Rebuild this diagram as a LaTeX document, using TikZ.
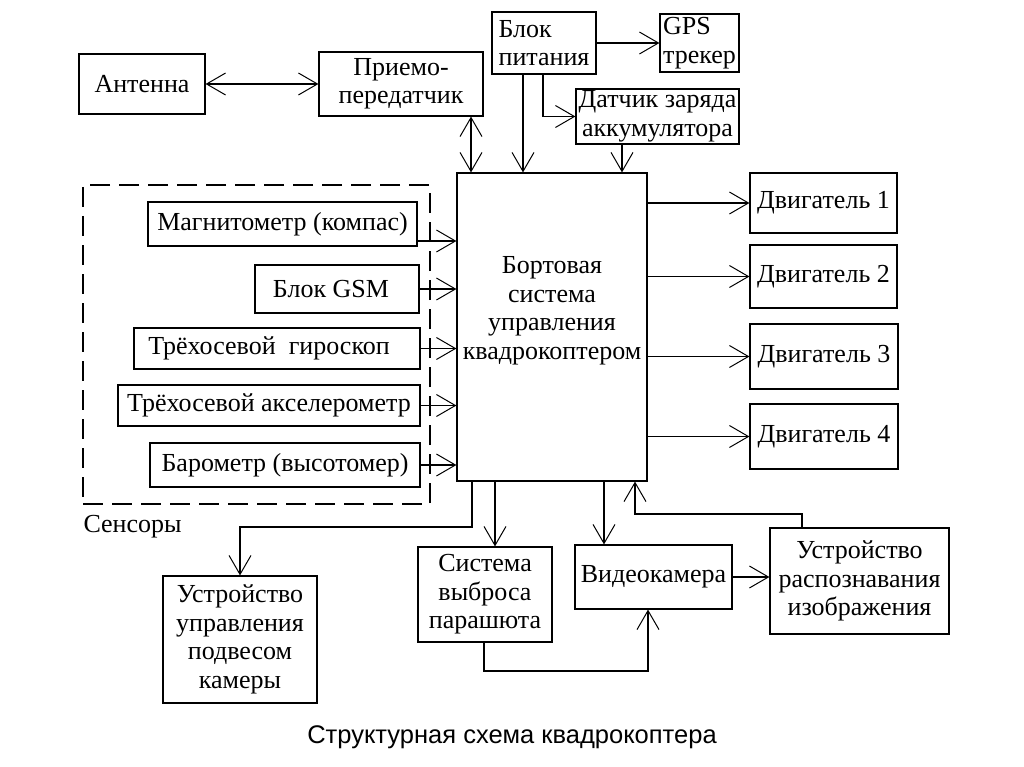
\documentclass[tikz,border=0pt]{standalone}
\usepackage{fontspec}
\setmainfont{Liberation Serif}
\newfontfamily\capfont{Liberation Sans}
\usetikzlibrary{arrows.meta,calc}
\newcommand\mybox[7][]{\node[box,#1,minimum width={#5pt-#3pt},minimum height={#6pt-#4pt}] (#2) at ({(#3+#5)/2},{(#4+#6)/2}) {#7};}
\begin{document}
\begin{tikzpicture}[x=1pt,y=-1pt,
  every node/.style={font=\fontsize{26}{28.5}\selectfont},
  box/.style={draw,line width=1.2pt,inner sep=0pt,align=center},
  ln/.style={line width=1.2pt},
  arr/.style={ln,-{Straight Barb[length=19pt,width=22pt,line width=1pt]}},
  darr/.style={ln,{Straight Barb[length=19pt,width=22pt,line width=1pt]}-{Straight Barb[length=19pt,width=22pt,line width=1pt]}},
  dashbox/.style={draw,line width=1.2pt,dash pattern=on 20pt off 9pt}]
\useasboundingbox (0,0) rectangle (1024,767);
% top
\mybox{ant}{79}{54}{205}{114}{Антенна}
\mybox{tr}{319}{52}{483}{116}{Приемо-\\передатчик}
\mybox[align=left]{bp}{492}{12}{596}{74}{Блок\\питания}
\mybox[align=left]{gps}{660}{14}{739}{72}{GPS\\трекер}
\mybox{dz}{576}{89}{739}{144}{Датчик заряда\\аккумулятора}
% main
\mybox{main}{457}{173}{647}{481}{}
\node[align=center] (maintext) at (552,311) {Бортовая\\система\\управления\\квадрокоптером};
% sensors
\node[dashbox,minimum width=347pt,minimum height=319pt] (sens) at (256.5,344.5) {};
\node[anchor=west] (senslabel) at (80,527) {Сенсоры};
\mybox{mag}{148}{202}{417}{246}{Магнитометр (компас)}
\mybox{gsm}{255}{265}{419}{313}{Блок GSM\hspace{12pt}}
\mybox{gyr}{134}{328}{420}{369}{Трёхосевой\ \ гироскоп\hspace{16pt}}
\mybox{acc}{118}{385}{420}{426}{Трёхосевой акселерометр}
\mybox{bar}{150}{443}{420}{487}{Барометр (высотомер)}
% motors
\mybox{m1}{750}{173}{897}{233}{Двигатель 1}
\mybox{m2}{750}{245}{897}{308}{Двигатель 2}
\mybox{m3}{750}{324}{898}{389}{Двигатель 3}
\mybox{m4}{750}{404}{898}{469}{Двигатель 4}
% bottom
\mybox{cam}{163}{576}{317}{703}{Устройство\\управления\\подвесом\\камеры}
\mybox{par}{418}{547}{552}{642}{Система\\выброса\\парашюта}
\mybox{vid}{575}{545}{732}{609}{Видеокамера}
\mybox{rec}{770}{528}{949}{634}{Устройство\\распознавания\\изображения}
\node[font=\capfont\fontsize{25.5}{30}\selectfont] (cap) at (512,737) {Структурная схема квадрокоптера};
% coordinates
\coordinate (c1) at (523,0);
\coordinate (c2) at (543,0);
\coordinate (c3) at (622,0);
\coordinate (c4) at (471,0);
\coordinate (c5) at (472,527);
\coordinate (c6) at (495,0);
\coordinate (c7) at (604,0);
\coordinate (c8) at (635,514);
\coordinate (c9) at (802,514);
\coordinate (c10) at (484,671);
\coordinate (c11) at (648,671);
\coordinate (mg) at ([yshift=-17pt]mag.east);
% connectors top
\draw[darr] (ant.east) -- (ant.east -| tr.west);
\draw[arr] (bp.east) -- (bp.east -| gps.west);
\draw[arr] (bp.south -| c1) -- (main.north -| c1);
\draw[arr] (bp.south -| c2) |- (dz.west);
\draw[arr] (dz.south -| c3) -- (main.north -| c3);
\draw[darr] (tr.south -| c4) -- (main.north -| c4);
% sensors
\draw[arr] (mg) -- (mg -| main.west);
\draw[arr] (gsm.east) -- (gsm.east -| main.west);
\draw[arr] (gyr.east) -- (gyr.east -| main.west);
\draw[arr] (acc.east) -- (acc.east -| main.west);
\draw[arr] (bar.east) -- (bar.east -| main.west);
% motors
\draw[arr] (m1.west -| main.east) -- (m1.west);
\draw[arr] (m2.west -| main.east) -- (m2.west);
\draw[arr] (m3.west -| main.east) -- (m3.west);
\draw[arr] (m4.west -| main.east) -- (m4.west);
% bottom
\draw[arr] (main.south -| c5) -- (c5) -| (cam.north);
\draw[arr] (main.south -| c6) -- (par.north -| c6);
\draw[arr] (main.south -| c7) -- (vid.north -| c7);
\draw[arr] (vid.east) -- (vid.east -| rec.west);
\draw[arr] (rec.north -| c9) -- (c9) -- (c8) -- (main.south -| c8);
\draw[arr] (par.south -| c10) -- (c10) -- (c11) -- (vid.south -| c11);
\end{tikzpicture}
\end{document}
